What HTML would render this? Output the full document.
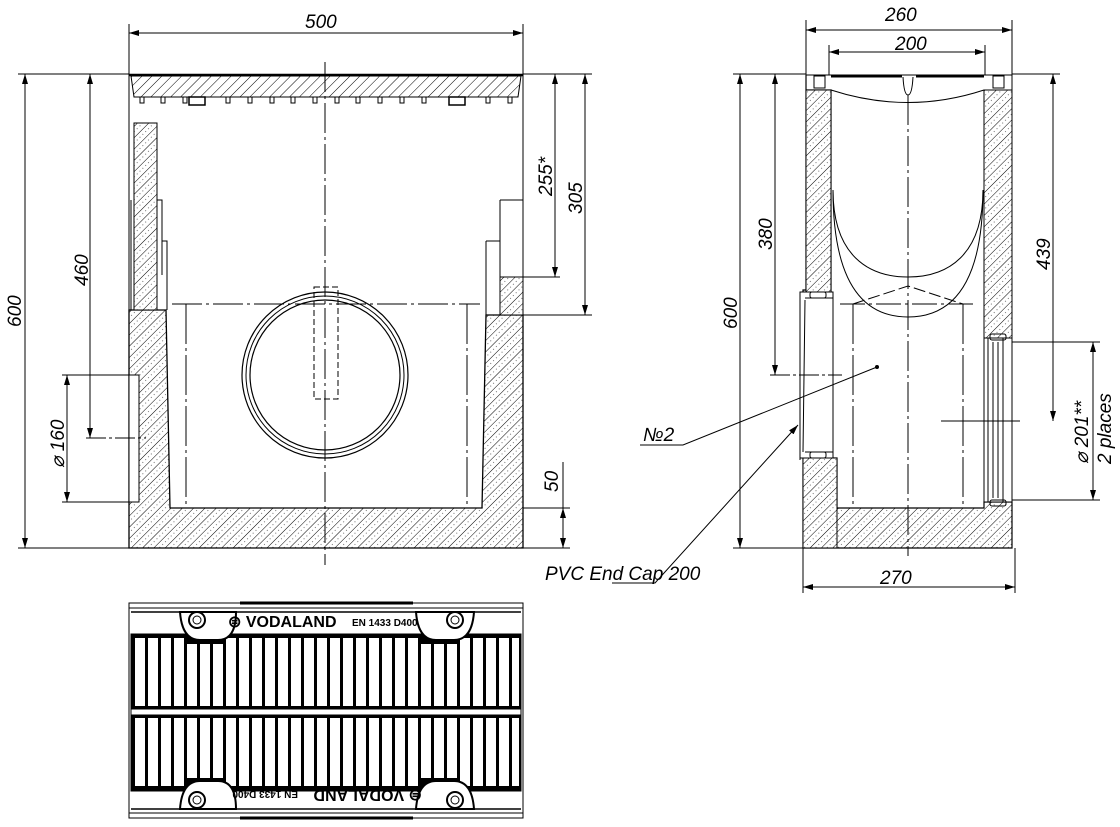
<!DOCTYPE html><html><head><style>body{margin:0;background:#fff}svg{display:block}text{font-family:"Liberation Sans",sans-serif;font-style:italic;fill:#000}</style></head><body>
<svg width="1120" height="827" viewBox="0 0 1120 827" xmlns="http://www.w3.org/2000/svg">
<defs>
<pattern id="h" width="8" height="8" patternUnits="userSpaceOnUse" patternTransform="rotate(45)">
<rect width="8" height="8" fill="#fff"/><line x1="0" y1="0" x2="0" y2="8" stroke="#000" stroke-width="1"/><circle cx="4" cy="2" r="0.5" fill="#444"/><circle cx="4" cy="6" r="0.5" fill="#444"/></pattern>
<pattern id="g" width="7" height="7" patternUnits="userSpaceOnUse" patternTransform="rotate(45)"><rect width="7" height="7" fill="#fff"/><line x1="0" y1="0" x2="0" y2="7" stroke="#000" stroke-width="1"/></pattern>
<marker id="a" markerWidth="10" markerHeight="6" refX="10" refY="3" orient="auto-start-reverse" markerUnits="userSpaceOnUse"><path d="M0,0 L10,3 L0,6 z" fill="#000"/></marker>
</defs>
<g stroke="#000" fill="none" stroke-width="1">
<!-- FRONT VIEW -->
<path d="M129,548 L129,310 L166,310 L170,508 L482,508 L486,315 L523,315 L523,548 Z" fill="url(#h)" stroke-width="1.3"/>
<path d="M134,123 L157,123 L157,310 L134,310 Z" fill="url(#h)"/>
<path d="M500,277 L523,277 L523,315 L500,315 Z" fill="url(#h)"/>
<rect x="129" y="375" width="10" height="127" fill="#fff"/>
<path d="M131,200 L131,310 M157,200 L162,200 L162,275 M162,241 L167,241 L167,310"/>
<path d="M500,200 L523,200 M500,200 L500,277 M486,241 L500,241 M486,241 L486,315"/>
<line x1="129" y1="74" x2="129" y2="548"/><line x1="523" y1="74" x2="523" y2="548"/>
<path d="M131,76 L521,76 L518,97 L134,97 Z" fill="url(#g)"/>
<line x1="129" y1="75" x2="523" y2="75" stroke-width="2.5"/>
<path d="M134,97 L518,97" />
<path d="M140,97 v6 h4 v-6 M161,97 v6 h4 v-6 M183,97 v6 h4 v-6 M226,97 v6 h4 v-6 M248,97 v6 h4 v-6 M270,97 v6 h4 v-6 M291,97 v6 h4 v-6 M313,97 v6 h4 v-6 M335,97 v6 h4 v-6 M356,97 v6 h4 v-6 M378,97 v6 h4 v-6 M400,97 v6 h4 v-6 M422,97 v6 h4 v-6 M486,97 v6 h4 v-6 M508,97 v6 h4 v-6"/>
<rect x="189" y="97" width="16" height="8" stroke-width="1.5"/><rect x="449" y="97" width="16" height="8" stroke-width="1.5"/>
<line x1="172" y1="304" x2="480" y2="304" stroke-dasharray="30,4,3,4"/>
<line x1="186" y1="304" x2="186" y2="508" stroke-dasharray="40,4,3,4"/>
<line x1="467" y1="304" x2="467" y2="508" stroke-dasharray="40,4,3,4"/>
<circle cx="325" cy="375" r="83" stroke-width="1.2"/><circle cx="325" cy="375" r="79"/><circle cx="325" cy="375" r="75" stroke-width="1.2"/>
<rect x="314" y="287" width="24" height="112" stroke-dasharray="6,3"/>
<line x1="325" y1="62" x2="325" y2="565" stroke-dasharray="30,4,3,4"/>
<line x1="129" y1="24" x2="129" y2="74"/><line x1="523" y1="24" x2="523" y2="74"/>
<line x1="129" y1="33" x2="523" y2="33" marker-start="url(#a)" marker-end="url(#a)"/>
<line x1="18" y1="74" x2="129" y2="74"/><line x1="18" y1="548" x2="129" y2="548"/>
<line x1="25" y1="74" x2="25" y2="548" marker-start="url(#a)" marker-end="url(#a)"/>
<line x1="90" y1="74" x2="90" y2="438" marker-start="url(#a)" marker-end="url(#a)"/>
<line x1="86" y1="438" x2="146" y2="438" stroke-dasharray="20,3,3,3"/>
<line x1="62" y1="375" x2="135" y2="375"/><line x1="62" y1="502" x2="135" y2="502"/>
<line x1="67" y1="375" x2="67" y2="502" marker-start="url(#a)" marker-end="url(#a)"/>
<line x1="523" y1="74" x2="592" y2="74"/>
<line x1="523" y1="277" x2="560" y2="277"/><line x1="523" y1="315" x2="592" y2="315"/>
<line x1="555" y1="74" x2="555" y2="277" marker-start="url(#a)" marker-end="url(#a)"/>
<line x1="585" y1="74" x2="585" y2="315" marker-start="url(#a)" marker-end="url(#a)"/>
<line x1="523" y1="508" x2="570" y2="508"/><line x1="523" y1="548" x2="570" y2="548"/>
<line x1="563" y1="462" x2="563" y2="548"/>
<line x1="563" y1="520" x2="563" y2="508" marker-end="url(#a)"/><line x1="563" y1="536" x2="563" y2="548" marker-end="url(#a)"/>
<!-- RIGHT VIEW -->
<path d="M806,75 L806,290 L803,290 L803,548 L1012,548 L1012,502 L984,502 L984,508 L837,508 L837,458 L831,458 L831,90 L806,90 Z" fill="url(#h)" stroke-width="1.2"/>
<path d="M806,90 L831,90 L831,295 L806,295 Z" fill="url(#h)"/>
<path d="M984,90 L1012,90 L1012,338 L984,338 Z" fill="url(#h)"/>
<path d="M803,458 L837,458 L837,548 L803,548 Z" fill="url(#h)"/>
<rect x="800" y="292" width="33" height="166" fill="#fff"/>
<path d="M800,292 L800,460 M805,300 L803,452 M833,292 L833,458 M805,298 L833,298 M805,452 L833,452"/>
<rect x="810" y="292" width="16" height="6" rx="2"/><rect x="810" y="452" width="16" height="6" rx="2"/>
<rect x="984" y="338" width="28" height="164" fill="#fff"/>
<path d="M988,338 V502 M993,342 V498 M998,342 V498 M1003,338 V502"/>
<rect x="990" y="334" width="16" height="6" rx="2"/><rect x="990" y="500" width="16" height="6" rx="2"/>
<path d="M806,75 L1012,75 M806,75 V100 M1012,75 V100"/>
<path d="M814,76 L825,76 L825,88 L814,88 Z M993,76 L1004,76 L1004,88 L993,88 Z"/>
<line x1="831" y1="76" x2="902" y2="76" stroke-width="3"/><line x1="916" y1="76" x2="984" y2="76" stroke-width="3"/>
<path d="M831,90 Q908,115 984,90"/>
<path d="M903,77 Q904,95 908,95 Q912,95 913,77"/>
<path d="M833,190 C833,255 868,277 908,277 C948,277 983,255 983,190"/>
<path d="M833,190 C833,290 868,317 908,317 C948,317 983,290 983,190"/>
<path d="M853,304 L908,286 L963,304" stroke-dasharray="12,4"/>
<line x1="840" y1="304" x2="977" y2="304" stroke-dasharray="25,4,3,4"/>
<line x1="853" y1="304" x2="853" y2="508" stroke-dasharray="40,4,3,4"/>
<line x1="963" y1="304" x2="963" y2="508" stroke-dasharray="40,4,3,4"/>
<line x1="908" y1="95" x2="908" y2="556" stroke-dasharray="30,4,3,4"/>
<line x1="941" y1="421" x2="1020" y2="421"/>
<line x1="806" y1="20" x2="806" y2="75"/><line x1="1012" y1="20" x2="1012" y2="75"/>
<line x1="806" y1="30" x2="1012" y2="30" marker-start="url(#a)" marker-end="url(#a)"/>
<line x1="829" y1="45" x2="829" y2="75"/><line x1="985" y1="45" x2="985" y2="75"/>
<line x1="829" y1="52" x2="985" y2="52" marker-start="url(#a)" marker-end="url(#a)"/>
<line x1="733" y1="74" x2="806" y2="74"/><line x1="733" y1="548" x2="803" y2="548"/>
<line x1="740" y1="74" x2="740" y2="548" marker-start="url(#a)" marker-end="url(#a)"/>
<line x1="775" y1="74" x2="775" y2="375" marker-start="url(#a)" marker-end="url(#a)"/>
<line x1="770" y1="375" x2="842" y2="375" stroke-dasharray="20,3,3,3"/>
<line x1="1012" y1="74" x2="1060" y2="74"/>
<line x1="1053" y1="74" x2="1053" y2="421" marker-start="url(#a)" marker-end="url(#a)"/>
<line x1="1012" y1="342" x2="1100" y2="342"/><line x1="1012" y1="500" x2="1100" y2="500"/>
<line x1="1093" y1="342" x2="1093" y2="500" marker-start="url(#a)" marker-end="url(#a)"/>
<line x1="803" y1="548" x2="803" y2="593"/><line x1="1015" y1="548" x2="1015" y2="593"/>
<line x1="803" y1="587" x2="1015" y2="587" marker-start="url(#a)" marker-end="url(#a)"/>
<path d="M640,445 L683,445 L877,367"/><circle cx="877" cy="367" r="1.5" fill="#000"/>
<path d="M612,583 L655,583 L798,425" marker-end="url(#a)"/>
<!-- GRATE PLAN -->
<rect x="129" y="603" width="394" height="215"/>
<line x1="129" y1="608" x2="523" y2="608"/><line x1="129" y1="813" x2="523" y2="813"/>
<line x1="240" y1="603" x2="413" y2="603" stroke-width="3"/><line x1="240" y1="818" x2="413" y2="818" stroke-width="3"/>
<line x1="131" y1="612" x2="521" y2="612" stroke-width="1.5"/><line x1="131" y1="809" x2="521" y2="809" stroke-width="1.5"/>
<rect x="131" y="634" width="390" height="75" fill="#000"/>
<rect x="131" y="715" width="390" height="76" fill="#000"/>
<rect x="131" y="709" width="390" height="6" fill="#fff"/>
</g>
<g fill="#fff">
<rect x="135" y="638" width="10" height="68"/><rect x="148" y="638" width="10" height="68"/><rect x="161" y="638" width="10" height="68"/><rect x="174" y="638" width="10" height="68"/><rect x="187" y="644" width="10" height="62"/><rect x="200" y="644" width="10" height="62"/><rect x="213" y="644" width="10" height="62"/><rect x="226" y="638" width="10" height="68"/><rect x="239" y="638" width="10" height="68"/><rect x="252" y="638" width="10" height="68"/><rect x="265" y="638" width="10" height="68"/><rect x="278" y="638" width="10" height="68"/><rect x="291" y="638" width="10" height="68"/><rect x="304" y="638" width="10" height="68"/><rect x="317" y="638" width="10" height="68"/><rect x="330" y="638" width="10" height="68"/><rect x="343" y="638" width="10" height="68"/><rect x="356" y="638" width="10" height="68"/><rect x="369" y="638" width="10" height="68"/><rect x="382" y="638" width="10" height="68"/><rect x="395" y="638" width="10" height="68"/><rect x="408" y="638" width="10" height="68"/><rect x="421" y="644" width="10" height="62"/><rect x="434" y="644" width="10" height="62"/><rect x="447" y="644" width="10" height="62"/><rect x="460" y="638" width="10" height="68"/><rect x="473" y="638" width="10" height="68"/><rect x="486" y="638" width="10" height="68"/><rect x="499" y="638" width="10" height="68"/><rect x="512" y="638" width="7" height="68"/>
<rect x="135" y="718" width="10" height="68"/><rect x="148" y="718" width="10" height="68"/><rect x="161" y="718" width="10" height="68"/><rect x="174" y="718" width="10" height="68"/><rect x="187" y="718" width="10" height="60"/><rect x="200" y="718" width="10" height="60"/><rect x="213" y="718" width="10" height="60"/><rect x="226" y="718" width="10" height="68"/><rect x="239" y="718" width="10" height="68"/><rect x="252" y="718" width="10" height="68"/><rect x="265" y="718" width="10" height="68"/><rect x="278" y="718" width="10" height="68"/><rect x="291" y="718" width="10" height="68"/><rect x="304" y="718" width="10" height="68"/><rect x="317" y="718" width="10" height="68"/><rect x="330" y="718" width="10" height="68"/><rect x="343" y="718" width="10" height="68"/><rect x="356" y="718" width="10" height="68"/><rect x="369" y="718" width="10" height="68"/><rect x="382" y="718" width="10" height="68"/><rect x="395" y="718" width="10" height="68"/><rect x="408" y="718" width="10" height="68"/><rect x="421" y="718" width="10" height="60"/><rect x="434" y="718" width="10" height="60"/><rect x="447" y="718" width="10" height="60"/><rect x="460" y="718" width="10" height="68"/><rect x="473" y="718" width="10" height="68"/><rect x="486" y="718" width="10" height="68"/><rect x="499" y="718" width="10" height="68"/><rect x="512" y="718" width="7" height="68"/>
</g>
<g stroke="#000" fill="none">
<path d="M180,612 Q182,640 200,640 L218,640 Q236,640 236,612 Z M416,612 Q418,640 436,640 L454,640 Q472,640 474,612 Z" fill="#fff" stroke-width="2"/>
<path d="M180,809 Q182,781 200,781 L218,781 Q236,781 236,809 Z M416,809 Q418,781 436,781 L454,781 Q472,781 474,809 Z" fill="#fff" stroke-width="2"/>
<circle cx="197" cy="620" r="8" stroke-width="2"/><circle cx="197" cy="620" r="4"/>
<circle cx="455" cy="620" r="8" stroke-width="2"/><circle cx="455" cy="620" r="4"/>
<circle cx="197" cy="800" r="8" stroke-width="2"/><circle cx="197" cy="800" r="4"/>
<circle cx="455" cy="800" r="8" stroke-width="2"/><circle cx="455" cy="800" r="4"/>
</g>
<g font-weight="bold">
<text x="228" y="627" font-size="16" style="font-style:normal">⊜ VODALAND</text>
<text x="352" y="626" font-size="10" style="font-style:normal">EN 1433 D400</text>
<g transform="rotate(180 325 797)"><text x="228" y="804" font-size="16" style="font-style:normal">⊜ VODALAND</text><text x="352" y="803" font-size="10" style="font-style:normal">EN 1433 D400</text></g>
</g>
<g font-size="19">
<text x="305" y="28">500</text>
<text x="885" y="21">260</text>
<text x="895" y="50">200</text>
<text x="880" y="584">270</text>
<text x="643" y="441">№2</text>
<text x="545" y="580">PVC End Cap 200</text>
<text transform="translate(21,327) rotate(-90)">600</text>
<text transform="translate(88,286) rotate(-90)">460</text>
<text transform="translate(64,468) rotate(-90)">⌀ 160</text>
<text transform="translate(552,196) rotate(-90)">255*</text>
<text transform="translate(582,214) rotate(-90)">305</text>
<text transform="translate(558,492) rotate(-90)">50</text>
<text transform="translate(737,329) rotate(-90)">600</text>
<text transform="translate(772,250) rotate(-90)">380</text>
<text transform="translate(1050,270) rotate(-90)">439</text>
<text transform="translate(1088,464) rotate(-90)">⌀ 201**</text>
<text transform="translate(1111,464) rotate(-90)">2 places</text>
</g>
</svg>
</body></html>
